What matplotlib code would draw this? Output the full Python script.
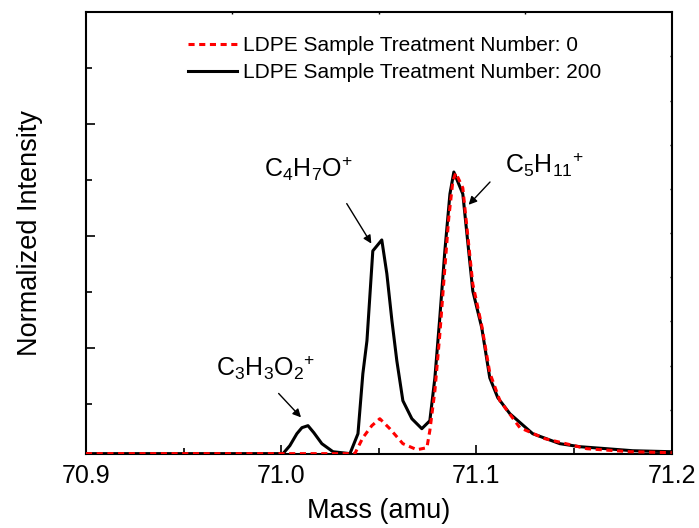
import numpy as np
import matplotlib
matplotlib.use("Agg")
import matplotlib.pyplot as plt

plt.rcParams['font.family'] = ['Liberation Sans', 'DejaVu Sans']
plt.rcParams['mathtext.fontset'] = 'custom'
plt.rcParams['mathtext.rm'] = 'Liberation Sans'
plt.rcParams['mathtext.it'] = 'Liberation Sans'

# treatment number 200 (black solid)
mass_200 = [70.9, 71.0009, 71.0044, 71.0080, 71.0106, 71.0137, 71.0167, 71.0208,
            71.0265, 71.0352, 71.0393, 71.0418, 71.0439, 71.0469, 71.0515, 71.0541,
            71.0567, 71.0592, 71.0623, 71.0669, 71.0720, 71.0761, 71.0787, 71.0812,
            71.0838, 71.0864, 71.0884, 71.0930, 71.0981, 71.1027, 71.1068, 71.1109,
            71.1171, 71.1288, 71.1427, 71.1529, 71.1667, 71.1800, 71.2]
int_200 = [0.054, 0.054, 0.125, 0.232, 0.286, 0.304, 0.241, 0.143,
           0.071, 0.054, 0.232, 0.768, 1.063, 1.866, 1.964, 1.661,
           1.241, 0.884, 0.527, 0.366, 0.277, 0.348, 0.732, 1.268,
           1.866, 2.375, 2.571, 2.375, 1.509, 1.179, 0.732, 0.554,
           0.411, 0.232, 0.143, 0.116, 0.098, 0.080, 0.071]

# treatment number 0 (red dashed)
mass_0 = [70.9, 71.0377, 71.0418, 71.0464, 71.0505, 71.0556, 71.0623, 71.0695,
          71.0746, 71.0761, 71.0787, 71.0812, 71.0838, 71.0858, 71.0879, 71.0894,
          71.0930, 71.0981, 71.1027, 71.1068, 71.1120, 71.1222, 71.1350, 71.1565,
          71.1785, 71.2]
int_0 = [0.054, 0.054, 0.196, 0.304, 0.366, 0.277, 0.143, 0.089,
         0.107, 0.259, 0.616, 1.116, 1.714, 2.161, 2.491, 2.563,
         2.429, 1.571, 1.196, 0.777, 0.527, 0.286, 0.188, 0.098,
         0.071, 0.063]

fig = plt.figure(figsize=(6.99, 5.28), dpi=100)
ax = fig.add_axes([0.123, 0.140, 0.838, 0.837])

ax.plot(mass_200, int_200, color='black', lw=2.2,
        label='LDPE Sample Treatment Number: 200', zorder=3)
ax.plot(mass_0, int_0, color='red', lw=2.2, ls=(0, (2, 1.5)),
        label='LDPE Sample Treatment Number: 0', zorder=4)

ax.set_xlim(70.9, 71.2)
ax.set_ylim(0.05, 4.0)
ax.set_xticks([70.9, 71.0, 71.1, 71.2])
ax.set_xticklabels(['70.9', '71.0', '71.1', '71.2'])
ax.set_xticks([70.95, 71.05, 71.15], minor=True)
ax.set_yticks([1, 2, 3])
ax.set_yticks([0.5, 1.5, 2.5, 3.5], minor=True)
ax.set_yticklabels([])
ax.tick_params(which='major', direction='in', length=6.5, width=1.2, labelsize=18, pad=7)
ax.tick_params(which='minor', direction='in', length=4, width=1.2)
for s in ax.spines.values():
    s.set_linewidth(1.5)

ax.set_xlabel('Mass (amu)', fontsize=19.5, labelpad=7)
ax.set_ylabel('Normalized Intensity', fontsize=19.5, labelpad=24)

# tiny ticks on the top and right edges
axr = ax.twinx()
axr.set_ylim(0, 1)
axr.set_yticks(np.arange(0.1, 1.0, 0.1))
axr.tick_params(direction='in', length=1.5, width=1, labelright=False)
axt = ax.twiny()
axt.set_xlim(0, 1)
axt.set_xticks([0.25, 0.5, 0.75])
axt.tick_params(direction='in', length=1.5, width=1, labeltop=False)
for a in (axr, axt):
    for s in a.spines.values():
        s.set_visible(False)

h, l = ax.get_legend_handles_labels()
ax.legend(h[::-1], l[::-1], loc='upper left', bbox_to_anchor=(0.174, 0.945),
          frameon=False, fontsize=15, handlelength=2.35, handletextpad=0.3,
          labelspacing=0.38, borderaxespad=0, borderpad=0)

arrow = dict(arrowstyle='-|>', color='black', lw=1, mutation_scale=12)
ax.annotate('', xy=(71.0469, 1.91), xytext=(71.0328, 2.31), arrowprops=arrow)
ax.annotate('', xy=(71.0950, 2.26), xytext=(71.1079, 2.50), arrowprops=arrow)
ax.annotate('', xy=(71.0111, 0.36), xytext=(70.9977, 0.61), arrowprops=arrow)

ax.text(71.0140, 2.60, 'C$_4$H$_7$O$^{+}$', fontsize=18, ha='center', va='center')
ax.text(71.1350, 2.64, 'C$_5$H$_{11}$$^{+}$', fontsize=18, ha='center', va='center')
ax.text(70.9920, 0.82, 'C$_3$H$_3$O$_2$$^{+}$', fontsize=18, ha='center', va='center')

fig.savefig('out.png', dpi=100)
